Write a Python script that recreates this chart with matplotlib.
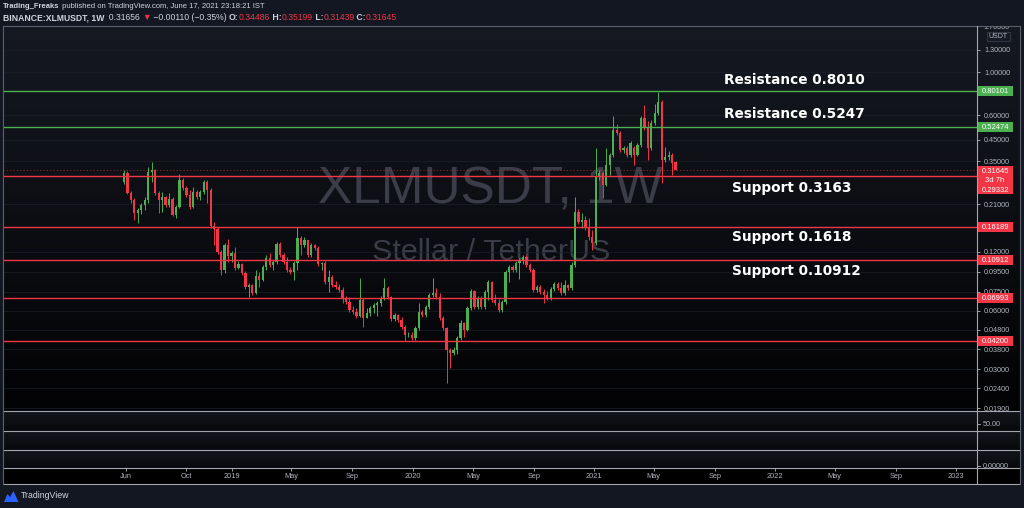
import numpy as np
import pandas as pd
import matplotlib
matplotlib.use('Agg')
import matplotlib.pyplot as plt
import matplotlib.dates as mdates
from matplotlib.transforms import IdentityTransform, blended_transform_factory, Bbox
from matplotlib.patches import Rectangle, Polygon
from matplotlib.lines import Line2D
from matplotlib.ticker import FixedLocator, FuncFormatter, NullLocator
from matplotlib import font_manager

# ---------------- data ----------------
first_week = '2018-05-28'
opens = [.2738, .3044, .2404, .2214, .1900, .1968, .2087, .2214, .3080, .3154,
         .2404, .2214, .2293, .2087, .2240, .1855, .2039, .2803, .2551, .2348,
         .2039, .2432, .2293, .2432, .2738, .2490, .1630, .1573, .1199, .0970,
         .1302, .1144, .1185, .0993, .1041, .0936, .0793, .0812, .0739, .0903,
         .0862, .1005, .1117, .1028, .1066, .1318, .1157, .1066, .0970, .0947,
         .1053, .1414, .1302, .1381, .1157, .1302, .1257, .1041, .1053, .0842,
         .0893, .0812, .0793, .0766, .0697, .0665, .0605, .0591, .0564, .0681,
         .0550, .0584, .0619, .0642, .0657, .0697, .0784, .0705, .0544, .0570,
         .0537, .0495, .0450, .0450, .0435, .0489, .0591, .0570, .0627, .0722,
         .0739, .0705, .0550, .0489, .0377, .0364, .0377, .0435, .0519, .0478,
         .0619, .0757, .0627, .0697, .0627, .0748, .0842, .0681, .0657, .0605,
         .0665, .0947, .1005, .0970, .1053, .1091, .1130, .1028, .0970, .0766,
         .0793, .0748, .0722, .0697, .0775, .0822, .0784, .0739, .0812, .0784,
         .1028, .1922, .1708, .1749, .1592, .1431, .1333, .2904, .3044, .2642,
         .3345, .3764, .5055, .4881, .3993, .4088, .3764, .4088, .3764, .4236,
         .5825, .5238, .4088, .5491, .6178, .7034, .3549, .3677, .3764, .34486]
highs = [.3154, .3117, .2461, .2266, .2015, .2137, .2293, .3267, .3466, .3191,
         .2461, .2432, .2320, .2404, .2293, .2087, .3009, .2870, .2611, .2490,
         .2581, .2490, .2490, .2803, .2803, .2551, .1708, .1611, .1228, .1333,
         .1398, .1213, .1272, .1078, .1053, .0958, .0832, .0822, .0970, .0947,
         .1028, .1157, .1185, .1091, .1349, .1349, .1185, .1130, .1005, .1078,
         .1611, .1448, .1431, .1381, .1333, .1318, .1287, .1066, .1078, .0970,
         .0914, .0852, .0822, .0793, .0714, .0705, .0634, .0619, .0882, .0697,
         .0619, .0634, .0657, .0673, .0714, .0882, .0803, .0714, .0584, .0577,
         .0557, .0507, .0467, .0467, .0501, .0657, .0605, .0642, .0739, .0882,
         .0784, .0739, .0564, .0495, .0386, .0391, .0445, .0537, .0525, .0634,
         .0775, .0766, .0714, .0714, .0766, .0862, .0852, .0731, .0689, .0681,
         .0970, .1028, .1028, .1078, .1117, .1157, .1157, .1053, .0993, .0812,
         .0812, .0775, .0757, .0793, .0842, .0842, .0842, .0862, .0822, .1066,
         .2293, .1991, .1900, .1834, .1791, .1554, .4088, .3154, .3117, .4088,
         .3854, .5964, .5427, .4998, .4186, .4186, .4441, .4186, .4337, .5964,
         .6789, .5622, .5689, .6870, .7917, .7203, .4137, .3946, .3854, .35199]
lows = [.2674, .2376, .2137, .1749, .1688, .1877, .1968, .2137, .2738, .2348,
        .1900, .1922, .2039, .2039, .1834, .1791, .2015, .2490, .2293, .1991,
        .2015, .2240, .2214, .2376, .2137, .1592, .1302, .1171, .0914, .0936,
        .1066, .1066, .0970, .0981, .0914, .0775, .0705, .0722, .0731, .0793,
        .0852, .0970, .1005, .0970, .1041, .1130, .1041, .0947, .0925, .0862,
        .0970, .1157, .1272, .1130, .1130, .1228, .1016, .0970, .0822, .0748,
        .0793, .0775, .0748, .0657, .0649, .0591, .0577, .0550, .0557, .0495,
        .0550, .0564, .0584, .0564, .0634, .0681, .0689, .0531, .0531, .0525,
        .0483, .0420, .0440, .0425, .0425, .0478, .0557, .0557, .0612, .0705,
        .0689, .0537, .0478, .0256, .0305, .0356, .0360, .0425, .0440, .0472,
        .0605, .0612, .0612, .0612, .0612, .0681, .0665, .0642, .0591, .0591,
        .0649, .0842, .0947, .0947, .0872, .1041, .1005, .0947, .0748, .0748,
        .0731, .0657, .0681, .0681, .0757, .0766, .0722, .0722, .0766, .0766,
        .1005, .1669, .1592, .1554, .1381, .1228, .1302, .2803, .2266, .2611,
        .2973, .3677, .4767, .3900, .3854, .3677, .3677, .3345, .3720, .4137,
        .5055, .3549, .3993, .5363, .6034, .2706, .3466, .3549, .2973, .31439]
closes = [.3044, .2404, .2214, .1900, .1968, .2087, .2214, .3080, .3154, .2404,
          .2214, .2293, .2087, .2240, .1855, .2039, .2803, .2551, .2348, .2039,
          .2432, .2293, .2432, .2738, .2490, .1630, .1573, .1199, .0970, .1302,
          .1144, .1185, .0993, .1041, .0936, .0793, .0812, .0739, .0903, .0862,
          .1005, .1117, .1028, .1066, .1318, .1157, .1066, .0970, .0947, .1053,
          .1414, .1302, .1381, .1157, .1302, .1257, .1041, .1053, .0842, .0893,
          .0812, .0793, .0766, .0697, .0665, .0605, .0591, .0564, .0681, .0550,
          .0584, .0619, .0642, .0657, .0697, .0784, .0705, .0544, .0570, .0537,
          .0495, .0450, .0450, .0435, .0489, .0591, .0570, .0627, .0722, .0739,
          .0705, .0550, .0489, .0377, .0364, .0377, .0435, .0519, .0478, .0619,
          .0757, .0627, .0697, .0627, .0748, .0842, .0681, .0657, .0605, .0665,
          .0947, .1005, .0970, .1053, .1091, .1130, .1028, .0970, .0766, .0793,
          .0748, .0722, .0697, .0775, .0822, .0784, .0739, .0812, .0784, .1028,
          .1922, .1708, .1749, .1592, .1431, .1333, .2904, .3044, .2642, .3345,
          .3764, .5055, .4881, .3993, .4088, .3764, .4337, .3764, .4236, .5825,
          .5238, .4088, .5491, .6178, .7034, .3549, .3677, .3764, .3426, .31645]

resistance_levels = [0.80101, 0.52474]
support_levels = [0.29332, 0.16189, 0.10912, 0.06993, 0.04200]
level_tags = ['0.80101', '0.52474', '0.29332', '0.16189', '0.10912', '0.06993', '0.04200']
last_price = 0.31645
last_tag = '0.31645'
countdown = '3d 7h'
note_texts = ['Resistance 0.8010', 'Resistance 0.5247', 'Support 0.3163', 'Support 0.1618', 'Support 0.10912']
note_levels = [0.80101, 0.52474, 0.29332, 0.16189, 0.10912]

price_ticks = [1.3, 1.0, 0.6, 0.45, 0.35, 0.21, 0.12, 0.095, 0.075, 0.06, 0.048, 0.038, 0.03, 0.024, 0.019]
top_tick = '1.70000'
time_ticks = ['2018-06-01', '2018-10-01', '2019-01-01', '2019-05-01', '2019-09-01', '2020-01-01',
              '2020-05-01', '2020-09-01', '2021-01-01', '2021-05-01', '2021-09-01', '2022-01-01',
              '2022-05-01', '2022-09-01', '2023-01-01']
time_labels = ['Jun', 'Oct', '2019', 'May', 'Sep', '2020', 'May', 'Sep', '2021', 'May', 'Sep', '2022',
               'May', 'Sep', '2023']
x_range = ('2017-09-26', '2023-02-12')
y_range = (0.01837, 1.7245)

# ---------------- style ----------------
W, H = 1024, 508
BG = '#131722'
GREEN = '#4caf50'
RED = '#f23645'
TXT = '#b2b5be'
WHITE = '#d1d4dc'
FRAME = '#8c8f98'


def have(f):
    try:
        font_manager.findfont(font_manager.FontProperties(family=f), fallback_to_default=False)
        return True
    except Exception:
        return False


SANS = 'Liberation Sans' if have('Liberation Sans') else 'DejaVu Sans'
NARROW = 'Liberation Sans Narrow' if have('Liberation Sans Narrow') else SANS

fig = plt.figure(figsize=(W / 100, H / 100), dpi=100, facecolor=BG)
ID = IdentityTransform()
renderer = fig.canvas.get_renderer()

XL, XR, XRR = 3, 977, 1020
YT, Y1, Y2, Y3, Y4, Y5 = 26, 411, 431, 450, 468, 484


def rect(x0, y0, x1, y1):
    return [x0 / W, 1 - y1 / H, (x1 - x0) / W, (y1 - y0) / H]


def gradient(y0, y1, top, bot, x0=XL, x1=XRR):
    a = fig.add_axes(rect(x0, y0, x1, y1), zorder=0)
    g = np.linspace(0, 1, 200)[:, None, None]
    img = np.array(top)[None, None, :] * (1 - g) + np.array(bot)[None, None, :] * g
    a.imshow(img, aspect='auto', extent=[0, 1, 0, 1], interpolation='bilinear')
    a.set_axis_off()
    return a


gradient(YT, Y1, (0.085, 0.097, 0.133), (0.010, 0.011, 0.016))
gradient(Y1, Y2, (0.075, 0.084, 0.110), (0.030, 0.034, 0.045))
gradient(Y2, Y3, (0.075, 0.084, 0.110), (0.030, 0.034, 0.045))
gradient(Y3, Y4, (0.075, 0.084, 0.110), (0.030, 0.034, 0.045))
gradient(Y4, Y5, (0.0, 0.0, 0.0), (0.0, 0.0, 0.0))

# ---------------- main price axes ----------------
ax = fig.add_axes(rect(XL, YT, XR, Y1), zorder=2)
ax.set_facecolor('none')
for s in ax.spines.values():
    s.set_visible(False)
ax.set_yscale('log')
xlim = (mdates.date2num(pd.Timestamp(x_range[0])), mdates.date2num(pd.Timestamp(x_range[1])))
ax.set_xlim(*xlim)
ax.set_ylim(*y_range)

dates = pd.date_range(first_week, periods=len(closes), freq='7D')
xd = mdates.date2num(dates)
o, h, l, c = (np.array(v, dtype=float) for v in (opens, highs, lows, closes))
up = c >= o
cols = np.where(up, GREEN, RED)
ax.vlines(xd, l, h, colors=cols, lw=0.7, zorder=3)
bot = np.minimum(o, c)
hgt = np.maximum(np.abs(c - o), bot * 0.006)
ax.bar(xd, hgt, width=4.6, bottom=bot, color=cols, linewidth=0, zorder=4)

for v in resistance_levels:
    ax.axhline(v, color=GREEN, lw=1.0, zorder=5)
for v in support_levels:
    ax.axhline(v, color=RED, lw=1.0, zorder=5)
ax.axhline(last_price, color=RED, lw=0.6, ls=(0, (1.5, 2.5)), alpha=0.6, zorder=5)

ax.yaxis.set_major_locator(FixedLocator(price_ticks))
ax.yaxis.set_minor_locator(NullLocator())
ax.yaxis.set_major_formatter(FuncFormatter(lambda v, p: f'{v:.5f}'))
ax.yaxis.tick_right()
ax.tick_params(axis='y', which='both', length=2.5, width=0.6, color=TXT, labelcolor=TXT,
               labelsize=5.2, pad=2.5)
for lab in ax.get_yticklabels():
    lab.set_family(SANS)
ax.set_xticks([])
ax.grid(axis='y', color='#1c1f29', lw=0.5, zorder=1)

# watermark
def fit_text(axis_or_fig, x, y, s, target_w, fs0, **kw):
    t = axis_or_fig.text(x, y, s, transform=ID, fontsize=fs0, **kw)
    w = t.get_window_extent(renderer).width
    t.set_fontsize(fs0 * target_w / w)
    return t


fit_text(ax, 490, H - 190, 'XLMUSDT, 1W', 345, 36, ha='center', va='center', family=NARROW,
         color='#3a3d47', zorder=0.5)
fit_text(ax, 491, H - 252, 'Stellar / TetherUS', 238, 20, ha='center', va='center', family=SANS,
         color='#3a3d47', zorder=0.5)

# notes on levels
blend = blended_transform_factory(ax.transAxes, ax.transData)
note_x = [0.7407, 0.7407, 0.748, 0.748, 0.748]
note_dy = [11, 13, -12, -10, -11]
for s, v, xf, dy in zip(note_texts, note_levels, note_x, note_dy):
    ax.annotate(s, xy=(xf, v), xycoords=blend, xytext=(0, dy * 0.72), textcoords='offset points',
                ha='left', va='center', color='white', fontsize=9.8, fontweight='bold',
                family='DejaVu Sans', zorder=6)


def ypx(v):
    return ax.transData.transform((xlim[0], v))[1]


def tag(yc, text, color, hh=10):
    fig.add_artist(Rectangle((XR, yc - hh / 2), 36, hh, transform=ID, facecolor=color,
                             edgecolor='none', zorder=5))
    fig.text(995, yc, text, transform=ID, ha='center', va='center_baseline', fontsize=5.5,
             color='white', family=SANS, zorder=6)


all_levels = resistance_levels + support_levels
all_cols = [GREEN] * len(resistance_levels) + [RED] * len(support_levels)
# last price block
yl = ypx(last_price)
fig.add_artist(Rectangle((XR, yl - 14), 36, 18, transform=ID, facecolor=RED, edgecolor='none', zorder=5))
fig.text(995, yl - 1, last_tag, transform=ID, ha='center', va='center_baseline', fontsize=5.5,
         color='white', family=SANS, zorder=6)
fig.text(995, yl - 10, countdown, transform=ID, ha='center', va='center_baseline', fontsize=5.5,
         color='white', family=SANS, zorder=6)
for v, txt, col in zip(all_levels, level_tags, all_cols):
    yc = ypx(v)
    if v == support_levels[0]:
        yc -= 13
    tag(yc, txt, col)

# top clipped tick label and USDT box
t17 = fig.text(983, H - 27.5, top_tick, transform=ID, ha='left', va='center', fontsize=5.2,
               color=TXT, family=SANS, zorder=4)
t17.set_clip_box(Bbox([[XR, H - Y1], [XRR, H - YT]]))
t17.set_clip_on(True)
fig.add_artist(Rectangle((986.5, H - 41), 23, 9, transform=ID, facecolor='#161a24',
                         edgecolor='#3a3e4a', lw=0.6, zorder=5))
fig.text(998, H - 36.5, 'USDT', transform=ID, ha='center', va='center', fontsize=5.0,
         color=TXT, family=SANS, zorder=6)

# ---------------- lower panels ----------------
fig.text(983, H - 424, '50.00', transform=ID, ha='left', va='center', fontsize=5.2, color=TXT,
         family=SANS, zorder=4)
t0 = fig.text(983, H - 466, '0.00000', transform=ID, ha='left', va='center', fontsize=5.2,
              color=TXT, family=SANS, zorder=4)
t0.set_clip_box(Bbox([[XR, H - Y4], [XRR, H - Y3]]))
t0.set_clip_on(True)
for yy in (424, 466):
    fig.add_artist(Line2D([XR, XR + 2.5], [H - yy, H - yy], transform=ID, color=TXT, lw=0.6, zorder=4))

# ---------------- time axis ----------------
axt = fig.add_axes(rect(XL, Y4, XR, Y5), zorder=2)
axt.set_facecolor('none')
for s in axt.spines.values():
    s.set_visible(False)
axt.set_xlim(*xlim)
axt.set_ylim(0, 1)
tnums = mdates.date2num(pd.to_datetime(time_ticks))
axt.set_xticks(tnums)
axt.set_yticks([])
axt.tick_params(axis='x', direction='in', top=True, bottom=False, labelbottom=False,
                length=2.5, width=0.6, color=TXT)
tblend = blended_transform_factory(axt.transData, axt.transAxes)
for d, lab in zip(tnums, time_labels):
    axt.text(d, 0.47, lab, transform=tblend, ha='center', va='center', fontsize=5.3,
             color=TXT, family=SANS)

# ---------------- frame lines ----------------
def hline(y, x0=XL, x1=XRR, col=FRAME, lw=0.8):
    fig.add_artist(Line2D([x0, x1], [H - y, H - y], transform=ID, color=col, lw=lw, zorder=7))


def vline(x, y0=YT, y1=Y5, col=FRAME, lw=0.8):
    fig.add_artist(Line2D([x, x], [H - y0, H - y1], transform=ID, color=col, lw=lw, zorder=7))


for yy in (YT, Y1, Y2, Y3, Y4, Y5):
    hline(yy, col='#a3a6af' if yy != YT else '#5d606b')
vline(XL, col='#5d606b')
vline(XR, col='#a3a6af')
vline(XRR, col='#5d606b')

# ---------------- header ----------------
def chain(pieces, x0, y0, target_w, fs0):
    def draw(fs):
        arts, x = [], x0
        for s, col, wt in pieces:
            t = fig.text(x, H - y0, s, transform=ID, fontsize=fs, color=col, fontweight=wt,
                         family=[SANS, 'DejaVu Sans'], ha='left', va='center', zorder=8)
            x = t.get_window_extent(renderer).x1
            arts.append(t)
        return arts, x - x0
    arts, w = draw(fs0)
    for a in arts:
        a.remove()
    draw(fs0 * target_w / w)


chain([('Trading_Freaks', WHITE, 'bold'),
       (' published on TradingView.com, June 17, 2021 23:18:21 IST', WHITE, 'normal')],
      3, 7, 259, 6.5)
chain([('BINANCE:XLMUSDT, 1W', WHITE, 'bold'),
       ('  0.31656 ', WHITE, 'normal'),
       ('\u25bc', RED, 'normal'),
       (' \u22120.00110 (\u22120.35%) ', WHITE, 'normal'),
       ('O:', WHITE, 'bold'), ('0.34486', RED, 'normal'),
       (' H:', WHITE, 'bold'), ('0.35199', RED, 'normal'),
       (' L:', WHITE, 'bold'), ('0.31439', RED, 'normal'),
       (' C:', WHITE, 'bold'), ('0.31645', RED, 'normal')],
      3, 17.5, 394, 6.5)

# ---------------- TradingView logo ----------------
fig.add_artist(Polygon([(4, H - 502), (7.5, H - 494), (10, H - 497), (13.5, H - 491),
                        (18.5, H - 502)], closed=True, transform=ID, facecolor='#2962ff',
                       edgecolor='none', zorder=8))
fig.text(21, H - 496, 'TradingView', transform=ID, ha='left', va='center', fontsize=6.3,
         color=WHITE, family=SANS, zorder=8)

fig.savefig('out.png', dpi=100, facecolor=BG)
